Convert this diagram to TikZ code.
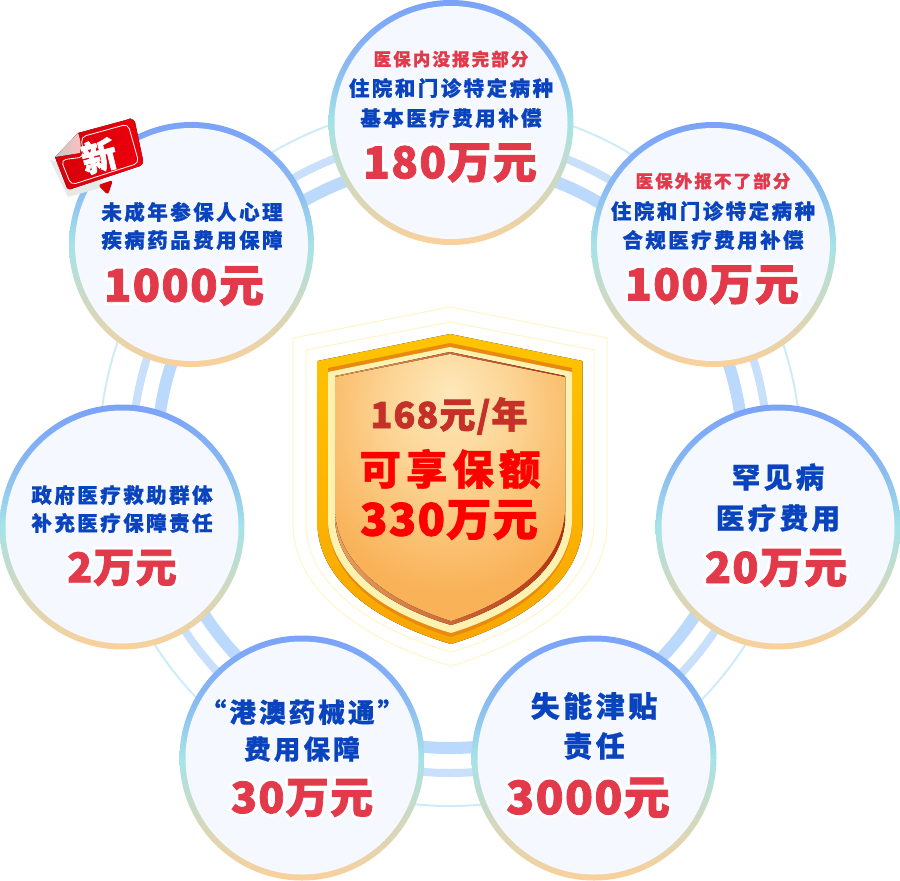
\documentclass[tikz,border=0pt]{standalone}
\usepackage[RGB]{xcolor}
\usepackage{fontspec}
\usetikzlibrary{calc}
\newfontfamily\cjkbody[LetterSpace=12,BoldFeatures={FakeBold=0.9}]{Noto Sans CJK SC}
\newfontfamily\cjknum[LetterSpace=3,BoldFeatures={FakeBold=1.8}]{Noto Sans CJK SC}
\newfontfamily\cjkhalo[LetterSpace=3,BoldFeatures={FakeBold=15}]{Noto Sans CJK SC}
\definecolor{B}{RGB}{10,67,190}
\definecolor{R}{RGB}{226,58,74}
\definecolor{F}{RGB}{245,249,255}
\definecolor{T}{RGB}{187,217,252}
\definecolor{M}{RGB}{200,224,251}
\definecolor{L}{RGB}{205,236,247}
\definecolor{H}{RGB}{255,246,200}
\definecolor{G}{RGB}{255,196,0}
\definecolor{D}{RGB}{248,166,0}
\definecolor{P}{RGB}{197,48,40}
\definecolor{W}{RGB}{255,242,176}
\definecolor{O}{RGB}{232,138,16}
\definecolor{A}{RGB}{251,208,154}
\definecolor{C}{RGB}{207,217,192}
\definecolor{Y}{RGB}{165,227,232}
\definecolor{E}{RGB}{122,162,248}
\definecolor{K}{RGB}{254,232,186}
\definecolor{J}{RGB}{252,212,148}
\definecolor{Q}{RGB}{249,178,88}
\definecolor{N}{RGB}{184,48,15}
\definecolor{V}{RGB}{232,160,96}
\definecolor{Z}{RGB}{214,0,10}
\definecolor{U}{RGB}{236,0,12}
\pgfdeclareverticalshading{edgefade}{100bp}{color(0bp)=(A);color(25bp)=(A);color(38bp)=(C);color(50bp)=(Y);color(62bp)=(E!65!Y);color(75bp)=(E);color(100bp)=(E)}
\pgfdeclareradialshading{facefade}{\pgfpoint{0bp}{18bp}}{color(0bp)=(K);color(14bp)=(J);color(32bp)=(Q);color(100bp)=(Q)}
\tikzset{
  bubbleedge/.style={circle,inner sep=0pt,minimum size=245pt,shading=edgefade},
  bubbleface/.style={circle,inner sep=0pt,minimum size=233pt,fill=F},
  bodytext/.style={inner sep=0pt,text=B,font=\fontsize{#1}{#1}\selectfont\cjkbody\bfseries},
  redtext/.style={inner sep=0pt,text=R,font=\fontsize{#1}{#1}\selectfont\cjkbody\bfseries},
  sumtext/.style={inner sep=0pt,text=R,font=\fontsize{#1}{#1}\selectfont\cjknum\bfseries},
  halotext/.style={inner sep=0pt,text=white,font=\fontsize{#1}{#1}\selectfont\cjkhalo\bfseries},
}
\newcommand{\drawbubble}[3]{\node[bubbleedge] (#1) at (#2,#3) {};\node[bubbleface] (#1face) at (#2,#3) {};}
\newcommand{\sumlabel}[5]{\node[halotext=#5] (#1halo) at (#2,#3) {#4};\node[sumtext=#5] (#1) at (#2,#3) {#4};}
\newcommand{\shieldpath}[5]{(450,#2)--({450-#1},#3)--({450-#1},#4).. controls ({450-#1+4},{#4+.55*(#5-#4)}) and ({450-.42*#1},{#5-.14*(#5-#4)}) .. (451,#5).. controls ({450+.42*#1},{#5-.14*(#5-#4)}) and ({450+#1-4},{#4+.55*(#5-#4)}) .. ({450+#1},#4)--({450+#1},#3)--cycle}
\begin{document}
\begin{tikzpicture}[x=1pt,y=-1pt]
\useasboundingbox (0,0) rectangle (900,881);
% rings behind the bubbles
\coordinate (hub) at (450,455);
\draw[L,line width=2pt] (hub) circle (351);
\draw[M,line width=8pt] (hub) circle (318);
\draw[T,line width=12pt] (hub) circle (293);
\drawbubble{topb}{451}{122.5}\drawbubble{leftup}{191.5}{244.5}\drawbubble{rightup}{713.5}{244.5}\drawbubble{leftb}{122}{527}\drawbubble{rightb}{778}{527}\drawbubble{lowleft}{302}{758}\drawbubble{lowright}{594}{758}
% shield
\draw[H,line width=1pt,fill=white] \shieldpath{157}{307}{338}{527}{666};
\draw[H,line width=1pt,fill=white] \shieldpath{144}{322}{350}{527}{652};
\fill[top color=G,bottom color=D] \shieldpath{132.5}{334}{361}{527}{644};
\fill[O] \shieldpath{122}{343}{368}{525}{637};
\fill[W] \shieldpath{122}{347}{372}{523}{633};
\fill[left color=V,right color=N] \shieldpath{115}{352}{376}{521}{625};
\fill[shading=facefade] \shieldpath{115}{354}{377}{512}{621};
\node[inner sep=0pt,text=P,font=\fontsize{36}{36}\selectfont\cjknum\bfseries] (price) at (449,416) {168元/年};
\node[inner sep=0pt,text=red,font=\fontsize{41.5}{42}\selectfont\cjkbody\bfseries] (cover) at (450,469) {可享保额};
\node[inner sep=0pt,text=red,font=\fontsize{45}{45}\selectfont\cjknum\bfseries] (total) at (449,520) {330万元};
% bubble labels
\node[redtext=17.5] (topa) at (451,59) {医保内没报完部分};\node[bodytext=20.5] (topc) at (451,88) {住院和门诊特定病种};\node[bodytext=20.5] (topd) at (451,118) {基本医疗费用补偿};\sumlabel{tope}{450}{163}{180万元}{44}
\node[redtext=17.5] (rua) at (713,181) {医保外报不了部分};\node[bodytext=20.5] (ruc) at (713,211) {住院和门诊特定病种};\node[bodytext=20.5] (rud) at (713,240) {合规医疗费用补偿};\sumlabel{rue}{712}{285}{100万元}{44}
\node[bodytext=20.5] (luc) at (192,212) {未成年参保人心理};\node[bodytext=20.5] (lud) at (192,240) {疾病药品费用保障};\sumlabel{lue}{184}{286}{1000元}{45}
\node[bodytext=20.5] (lbc) at (122,495) {政府医疗救助群体};\node[bodytext=20.5] (lbd) at (122,523) {补充医疗保障责任};\sumlabel{lbe}{122}{568}{2万元}{41}
\node[bodytext=28.5] (rbc) at (778,477) {罕见病};\node[bodytext=28.5] (rbd) at (778,518) {医疗费用};\sumlabel{rbe}{776}{568}{20万元}{43}
\node[bodytext=26.5] (llc) at (302,712) {“港澳药械通”};\node[bodytext=26.5] (lld) at (302,749) {费用保障};\sumlabel{lle}{302}{798}{30万元}{43}
\node[bodytext=29] (lrc) at (594,706) {失能津贴};\node[bodytext=29] (lrd) at (594,746) {责任};\sumlabel{lre}{588}{798}{3000元}{46}
% new badge
\fill[black!9] (50,160)--(68,197)--(100,188)--(105,170)--cycle;
\fill[Z,rounded corners=3pt] (98,185)--(108,195)--(113,180)--cycle;
\fill[left color=Z,right color=U] (78,133)--(126,120) to[out=-15,in=105] (131,119)--(130,119) to[out=0,in=110] (135,122)--(143,160) to[out=-80,in=20] (140,166)--(71,189) to[out=190,in=-60] (67,188)--(55,157)--(80,153)--cycle;
\draw[white,line width=.8pt,rounded corners=5pt] (81,137)--(128,124)--(139,163)--(71,185)--(61,160)--(84,157)--cycle;
\fill[left color=black!22,right color=red!25!white] (55,157)--(78,133) to[out=-70,in=80] (80,153)--cycle;
\node[inner sep=0pt,rotate=14,text=white,font=\fontsize{35}{35}\selectfont\cjknum\bfseries] (newmark) at (99,156) {新};
\end{tikzpicture}
\end{document}
